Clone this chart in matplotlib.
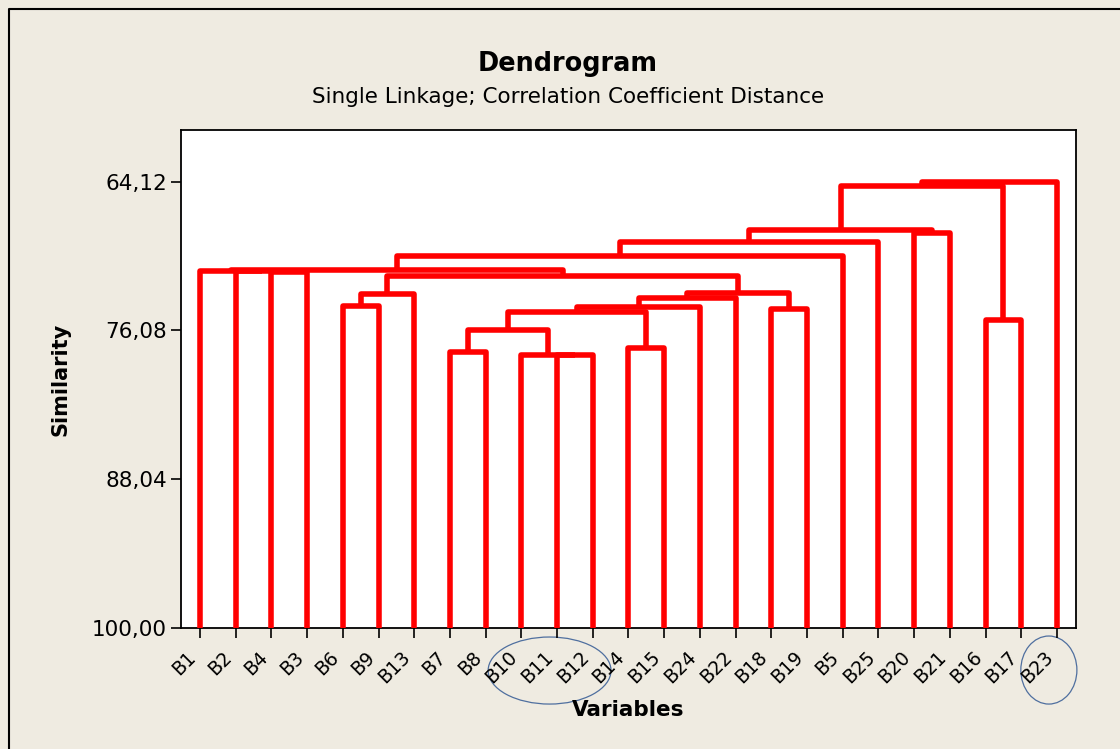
import matplotlib
matplotlib.use("Agg")
import matplotlib.pyplot as plt
from matplotlib.patches import Ellipse
from matplotlib.lines import Line2D

# ---- data ----
leaf_labels = ["B1", "B2", "B4", "B3", "B6", "B9", "B13", "B7", "B8", "B10",
               "B11", "B12", "B14", "B15", "B24", "B22", "B18", "B19", "B5",
               "B25", "B20", "B21", "B16", "B17", "B23"]
# merges: (left child, right child, similarity); node ids continue after leaves
merge_left = [10, 9, 7, 12, 27, 22, 29, 16, 31, 4, 33, 34, 35, 36, 2, 1, 0, 41, 42, 43, 20, 44, 46, 47]
merge_right = [11, 25, 8, 13, 26, 23, 28, 17, 14, 5, 15, 6, 32, 37, 3, 39, 40, 38, 18, 19, 21, 45, 30, 24]
merge_sim = [78.09, 78.05, 77.77, 77.45, 76.08, 75.20, 74.63, 74.39, 74.23, 74.11,
             73.43, 73.15, 73.03, 71.66, 71.38, 71.32, 71.27, 71.22, 70.09, 68.93,
             68.28, 67.96, 64.50, 64.12]
ytick_values = [64.12, 76.08, 88.04, 100.00]
ytick_labels = ["64,12", "76,08", "88,04", "100,00"]

title = "Dendrogram"
subtitle = "Single Linkage; Correlation Coefficient Distance"

# ---- figure ----
bg = "#EFEBE1"
fig = plt.figure(figsize=(11.2, 7.49), dpi=100, facecolor=bg)
ax = fig.add_axes([181 / 1120, 1 - 628 / 749, 895 / 1120, 498 / 749])
ax.set_facecolor("white")

n = len(leaf_labels)
xpos = {i: float(i) for i in range(n)}
hgt = {i: 100.0 for i in range(n)}
red = "#FF0000"
for k, (l, r, s) in enumerate(zip(merge_left, merge_right, merge_sim)):
    node = n + k
    xl, xr = xpos[l], xpos[r]
    ax.plot([xl, xl, xr, xr], [hgt[l], s, s, hgt[r]], color=red, lw=4.0,
            solid_joinstyle="round", solid_capstyle="butt", zorder=3)
    xpos[node] = (xl + xr) / 2
    hgt[node] = s

ax.set_xlim(-0.53, 24.53)
ax.set_ylim(100, 59.96)
ax.set_xticks(range(n))
ax.set_xticklabels(leaf_labels, rotation=45, ha="right", va="top", fontsize=13.5)
ax.set_yticks(ytick_values)
ax.set_yticklabels(ytick_labels, fontsize=15.5)
ax.tick_params(axis="x", length=7, width=1.2, pad=7, direction="out")
ax.tick_params(axis="y", length=7, width=1.2, pad=3, direction="out")
for sp in ax.spines.values():
    sp.set_linewidth(1.3)
    sp.set_color("black")

ax.set_xlabel("Variables", fontsize=15.5, fontweight="bold", va="center")
ax.xaxis.set_label_coords(0.5, (628 - 710) / 498)
ax.set_ylabel("Similarity", fontsize=15, fontweight="bold", va="center", ha="center")
ax.yaxis.set_label_coords((60 - 181) / 895, 0.5)

fig.text(568 / 1120, 1 - 64 / 749, title, ha="center", va="center",
         fontsize=18.4, fontweight="bold")
fig.text(568 / 1120, 1 - 97 / 749, subtitle, ha="center", va="center", fontsize=15.5)

# hand-drawn annotation ellipses
ecol = "#4F6F9F"
ax.add_patch(Ellipse((9.79, 103.42), 3.44, 5.39, fill=False, edgecolor=ecol, lw=0.9, clip_on=False))
ax.add_patch(Ellipse((23.77, 103.38), 1.57, 5.47, fill=False, edgecolor=ecol, lw=0.9, clip_on=False))

# outer frame
fig.add_artist(Line2D([9 / 1120, 9 / 1120, 1.0], [0, 1 - 9 / 749, 1 - 9 / 749],
                      transform=fig.transFigure, color="black", lw=1.5))

fig.savefig("out.png", dpi=100, facecolor=bg)
